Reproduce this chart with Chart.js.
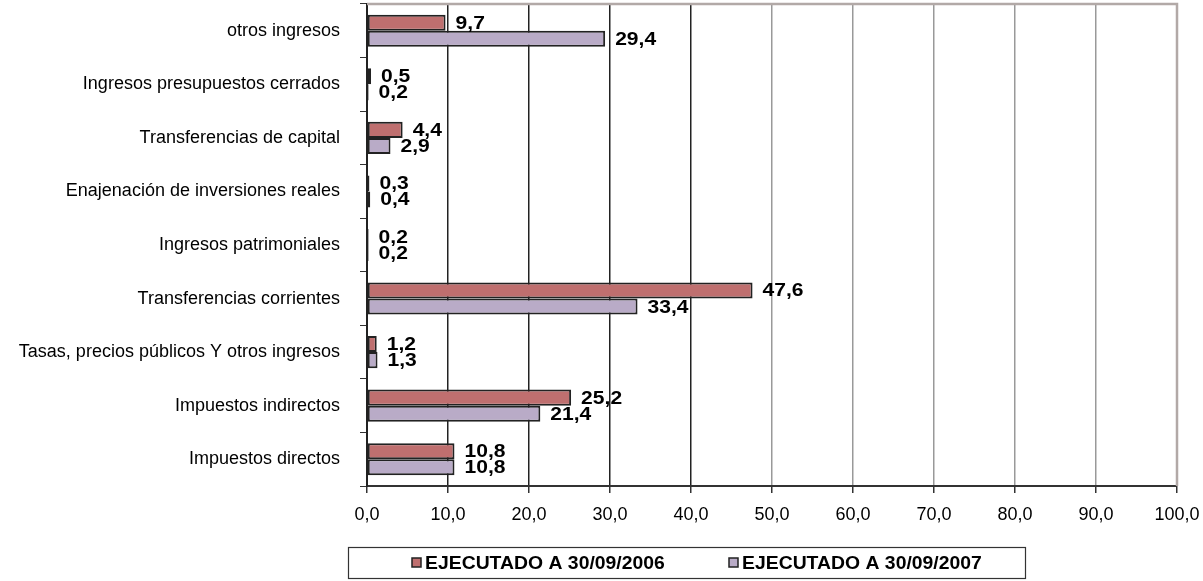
<!DOCTYPE html>
<html><head><meta charset="utf-8">
<script src="https://cdn.jsdelivr.net/npm/chart.js@4"></script>
<style>html,body{margin:0;padding:0;background:#fff}#wrap{width:1203px;height:581px}</style>
</head><body><div id="wrap"><canvas id="c" width="1203" height="581"></canvas></div>
<script>
const categories = ["otros ingresos","Ingresos presupuestos cerrados","Transferencias de capital","Enajenación de inversiones reales","Ingresos patrimoniales","Transferencias corrientes","Tasas, precios públicos Y otros ingresos","Impuestos indirectos","Impuestos directos"];
const series2006 = [9.7,0.5,4.4,0.3,0.2,47.6,1.2,25.2,10.8];
const series2007 = [29.4,0.2,2.9,0.4,0.2,33.4,1.3,21.4,10.8];
const seriesNames = ["EJECUTADO A 30/09/2006","EJECUTADO A 30/09/2007"];
const xTicks = [0,10,20,30,40,50,60,70,80,90,100];

const FONT = "'Liberation Sans', Arial, sans-serif";
const fmt = v => v.toFixed(1).replace('.', ',');

const labelPlugin = {
  id: 'labels',
  afterDatasetsDraw(chart) {
    const ctx = chart.ctx;
    chart.data.datasets.forEach((ds, di) => {
      const meta = chart.getDatasetMeta(di);
      meta.data.forEach((bar, i) => {
        ctx.save();
        ctx.font = "bold 18px " + FONT;
        ctx.fillStyle = '#000';
        ctx.textBaseline = 'middle';
        ctx.textAlign = 'left';
        ctx.translate(bar.x + 10, bar.y + 1);
        ctx.scale(1.17, 1);
        ctx.fillText(fmt(ds.data[i]), 0, 0);
        ctx.restore();
      });
    });
  }
};

const framePlugin = {
  id: 'frame',
  afterDraw(chart) {
    const ctx = chart.ctx, a = chart.chartArea;
    ctx.save();
    ctx.strokeStyle = '#b2a9a7';
    ctx.lineWidth = 2.5;
    ctx.beginPath();
    ctx.moveTo(a.left, a.top);
    ctx.lineTo(a.right, a.top);
    ctx.lineTo(a.right, a.bottom);
    ctx.stroke();
    // legend
    const bx = 348, by = 547, bw = 677, bh = 31;
    ctx.strokeStyle = '#333';
    ctx.lineWidth = 1.2;
    ctx.strokeRect(bx + 0.5, by + 0.5, bw, bh);
    ctx.textBaseline = 'middle';
    ctx.textAlign = 'left';
    const items = [{x: 412, c: '#bf6f6f'}, {x: 729, c: '#b9abc7'}];
    items.forEach((it, i) => {
      ctx.fillStyle = it.c;
      ctx.fillRect(it.x, by + 11, 9, 9);
      ctx.strokeStyle = '#222';
      ctx.lineWidth = 1.5;
      ctx.strokeRect(it.x, by + 11, 9, 9);
      ctx.save();
      ctx.fillStyle = '#000';
      ctx.font = "bold 19px " + FONT;
      ctx.translate(it.x + 13, by + 16.5);
      ctx.scale(1.02, 1);
      ctx.fillText(seriesNames[i], 0, 0);
      ctx.restore();
    });
    ctx.restore();
  }
};

new Chart(document.getElementById('c'), {
  type: 'bar',
  data: {
    labels: categories,
    datasets: [
      {label: seriesNames[0], data: series2006, backgroundColor: '#bf6f6f', borderColor: '#222', borderWidth: 2, borderSkipped: false},
      {label: seriesNames[1], data: series2007, backgroundColor: '#b9abc7', borderColor: '#222', borderWidth: 2, borderSkipped: false}
    ]
  },
  options: {
    indexAxis: 'y',
    responsive: false,
    animation: false,
    devicePixelRatio: 1,
    layout: {padding: {top: 4, right: 26, bottom: 50, left: 0}},
    datasets: {bar: {categoryPercentage: 0.6, barPercentage: 1.0}},
    plugins: {legend: {display: false}, tooltip: {enabled: false}},
    scales: {
      x: {
        min: 0, max: 100,
        afterBuildTicks(s) { s.ticks = xTicks.map(v => ({value: v})); },
        afterFit(s) { s.height = 45; s.paddingLeft = 0; s.paddingRight = 0; },
        ticks: {callback: v => fmt(v), color: '#000', font: {family: FONT, size: 18}, padding: 11, maxRotation: 0},
        grid: {
          color: c => (c.tick && c.tick.value > 0 && c.tick.value <= 40) ? '#222' : '#999',
          lineWidth: 1.5,
          tickColor: '#333', tickLength: 7, drawTicks: true
        },
        border: {display: true, color: '#333', width: 2}
      },
      y: {
        afterFit(s) { s.width = 367; s.paddingTop = 0; s.paddingBottom = 0; },
        ticks: {color: '#000', font: {family: FONT, size: 18}, padding: 20},
        grid: {drawOnChartArea: false, drawTicks: true, tickLength: 7, tickColor: '#333', offset: true},
        border: {display: true, color: '#222', width: 2}
      }
    }
  },
  plugins: [labelPlugin, framePlugin]
});
</script></body></html>
